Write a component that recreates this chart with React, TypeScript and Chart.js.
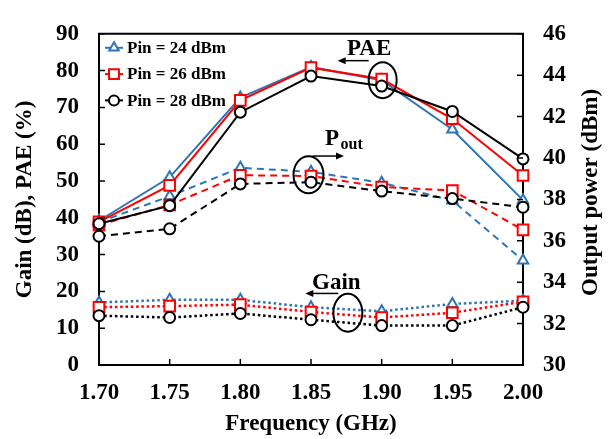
import React, { useEffect, useRef } from 'react';
import { Chart, registerables } from 'chart.js';

Chart.register(...registerables);

// ---- Data ----
const frequencies = ['1.70', '1.75', '1.80', '1.85', '1.90', '1.95', '2.00'];
const seriesLabels = ['Pin = 24 dBm', 'Pin = 26 dBm', 'Pin = 28 dBm'];

// PAE (%) – left axis, solid lines
const pae24 = [39.2, 51.0, 72.7, 81.0, 77.4, 64.0, 44.8];
const pae26 = [38.9, 48.8, 71.9, 80.8, 77.7, 66.9, 51.5];
const pae28 = [38.4, 43.3, 68.7, 78.5, 75.8, 68.9, 56.0];

// Output power (dBm) – right axis, dashed lines
const pout24 = [36.9, 38.15, 39.53, 39.33, 38.8, 37.95, 35.05];
const pout26 = [36.76, 37.73, 39.17, 39.13, 38.6, 38.43, 36.53];
const pout28 = [36.22, 36.58, 38.75, 38.83, 38.4, 38.04, 37.62];

// Gain (dB) – left axis, dotted lines
const gain24 = [17.0, 17.7, 17.7, 15.7, 14.6, 16.6, 17.5];
const gain26 = [15.7, 16.0, 16.4, 14.4, 12.9, 14.2, 17.2];
const gain28 = [13.4, 12.9, 14.0, 12.3, 10.7, 10.7, 15.7];

const leftMin = 0;
const leftMax = 90;
const leftStep = 10;
const rightMin = 30;
const rightMax = 46;
const rightStep = 2;

const xTitle = 'Frequency (GHz)';
const leftTitle = 'Gain (dB), PAE (%)';
const rightTitle = 'Output power (dBm)';

// ---- Styles ----
const BLUE = '#2E75B6';
const RED = '#FF0000';
const BLACK = '#000000';
const FONT = '"Liberation Serif", "Times New Roman", serif';
const colors = [BLUE, RED, BLACK];
const styles = ['triangle', 'rect', 'circle'];
const radii = [6, 7.5, 5.5];
const orders = [2, 1, 0];

function makeSet(label: string, data: number[], i: number, axis: string, dash: number[], width: number) {
  return {
    label,
    data,
    borderColor: colors[i],
    backgroundColor: '#ffffff',
    borderWidth: width,
    borderDash: dash,
    borderCapStyle: 'butt',
    pointStyle: styles[i],
    pointRadius: radii[i],
    pointBorderWidth: 2,
    pointBorderColor: colors[i],
    pointBackgroundColor: '#ffffff',
    yAxisID: axis,
    fill: false,
    tension: 0,
    order: orders[i],
  };
}

function drawMarker(ctx: CanvasRenderingContext2D, style: string, x: number, y: number, r: number, color: string) {
  ctx.save();
  ctx.lineWidth = 2;
  ctx.strokeStyle = color;
  ctx.fillStyle = '#ffffff';
  ctx.beginPath();
  if (style === 'circle') {
    ctx.arc(x, y, r, 0, Math.PI * 2);
  } else if (style === 'rect') {
    const s = r * Math.SQRT1_2;
    ctx.rect(x - s, y - s, 2 * s, 2 * s);
  } else {
    let a = 0;
    ctx.moveTo(x + Math.sin(a) * r, y - Math.cos(a) * r);
    a += (2 * Math.PI) / 3;
    ctx.lineTo(x + Math.sin(a) * r, y - Math.cos(a) * r);
    a += (2 * Math.PI) / 3;
    ctx.lineTo(x + Math.sin(a) * r, y - Math.cos(a) * r);
    ctx.closePath();
  }
  ctx.fill();
  ctx.stroke();
  ctx.restore();
}

function arrow(ctx: CanvasRenderingContext2D, x1: number, y: number, x2: number) {
  ctx.save();
  ctx.strokeStyle = '#000';
  ctx.fillStyle = '#000';
  ctx.lineWidth = 1.5;
  const dir = x2 > x1 ? 1 : -1;
  ctx.beginPath();
  ctx.moveTo(x1, y);
  ctx.lineTo(x2 - dir * 5, y);
  ctx.stroke();
  ctx.beginPath();
  ctx.moveTo(x2, y);
  ctx.lineTo(x2 - dir * 8, y - 3.5);
  ctx.lineTo(x2 - dir * 8, y + 3.5);
  ctx.closePath();
  ctx.fill();
  ctx.restore();
}

function ellipse(ctx: CanvasRenderingContext2D, cx: number, cy: number, rx: number, ry: number) {
  ctx.save();
  ctx.strokeStyle = '#000';
  ctx.lineWidth = 2;
  ctx.beginPath();
  ctx.ellipse(cx, cy, rx, ry, 0, 0, Math.PI * 2);
  ctx.stroke();
  ctx.restore();
}

const framePlugin = {
  id: 'frameTicks',
  afterDraw(chart: any) {
    const ctx: CanvasRenderingContext2D = chart.ctx;
    const { left, right, top, bottom } = chart.chartArea;
    const x = chart.scales.x;
    const y = chart.scales.y;
    const y1 = chart.scales.y1;
    ctx.save();
    ctx.strokeStyle = '#000';
    ctx.lineWidth = 2;
    ctx.beginPath();
    ctx.moveTo(left - 1, top);
    ctx.lineTo(right + 1, top);
    ctx.stroke();
    ctx.lineWidth = 1.5;
    ctx.beginPath();
    y.ticks.forEach((t: any) => {
      const p = y.getPixelForValue(t.value);
      ctx.moveTo(left, p);
      ctx.lineTo(left + 6, p);
    });
    y1.ticks.forEach((t: any) => {
      const p = y1.getPixelForValue(t.value);
      ctx.moveTo(right, p);
      ctx.lineTo(right - 6, p);
    });
    x.ticks.forEach((t: any, i: number) => {
      const p = x.getPixelForTick(i);
      ctx.moveTo(p, bottom);
      ctx.lineTo(p, bottom - 6);
    });
    ctx.stroke();

    // right axis title, reading bottom-to-top
    ctx.fillStyle = '#000';
    ctx.font = `bold 23px ${FONT}`;
    ctx.textAlign = 'center';
    ctx.textBaseline = 'middle';
    ctx.translate(591, (top + bottom) / 2 - 7);
    ctx.rotate(-Math.PI / 2);
    ctx.fillText(rightTitle, 0, 0);
    ctx.restore();
  },
};

const legendPlugin = {
  id: 'customLegend',
  afterDraw(chart: any) {
    const ctx: CanvasRenderingContext2D = chart.ctx;
    const { left, top } = chart.chartArea;
    ctx.save();
    ctx.font = `bold 17px ${FONT}`;
    ctx.textBaseline = 'middle';
    ctx.textAlign = 'left';
    seriesLabels.forEach((lab, i) => {
      const yy = top + 14 + i * 26.3;
      ctx.strokeStyle = colors[i];
      ctx.lineWidth = 2;
      ctx.beginPath();
      ctx.moveTo(left + 6, yy);
      ctx.lineTo(left + 24, yy);
      ctx.stroke();
      drawMarker(ctx, styles[i], left + 15, yy, radii[i] - 0.5, colors[i]);
      ctx.fillStyle = '#000';
      ctx.fillText(lab, left + 28, yy + 1);
    });
    ctx.restore();
  },
};

const annotationPlugin = {
  id: 'annotations',
  afterDraw(chart: any) {
    const ctx: CanvasRenderingContext2D = chart.ctx;
    const x = chart.scales.x;
    const y = chart.scales.y;
    ctx.save();
    ctx.fillStyle = '#000';
    ctx.textBaseline = 'alphabetic';

    // PAE
    const pX = x.getPixelForValue(4);
    const pY = y.getPixelForValue(77.4);
    ellipse(ctx, pX + 1, pY, 14, 18);
    arrow(ctx, pX - 13, pY - 19.5, pX - 44);
    ctx.font = `bold 23px ${FONT}`;
    ctx.textAlign = 'center';
    ctx.fillText('PAE', pX - 12.5, pY - 25);

    // Pout
    const oX = x.getPixelForValue(3);
    const oY = y.getPixelForValue(51.7);
    ellipse(ctx, oX - 2.5, oY, 15, 18.5);
    arrow(ctx, oX + 1.5, oY - 18.7, oX + 33);
    ctx.textAlign = 'left';
    ctx.font = `bold 23px ${FONT}`;
    ctx.fillText('P', oX + 14, oY - 30);
    ctx.font = `bold 16px ${FONT}`;
    ctx.fillText('out', oX + 29.5, oY - 26);

    // Gain
    const gX = x.getPixelForValue(3.5);
    const gY = y.getPixelForValue(14.2);
    ellipse(ctx, gX + 1.5, gY, 14.5, 19);
    arrow(ctx, gX - 8, gY - 19.3, gX - 41);
    ctx.font = `bold 23px ${FONT}`;
    ctx.textAlign = 'center';
    ctx.fillText('Gain', gX - 10, gY - 24);
    ctx.restore();
  },
};

const tickFont = { family: FONT, size: 23, weight: 'bold' as const };

export default function App() {
  const canvasRef = useRef<HTMLCanvasElement | null>(null);

  useEffect(() => {
    const canvas = canvasRef.current;
    if (!canvas) return;
    const chart = new Chart(canvas, {
      type: 'line',
      data: {
        labels: frequencies,
        datasets: [
          makeSet(seriesLabels[0] + ' PAE', pae24, 0, 'y', [], 2),
          makeSet(seriesLabels[1] + ' PAE', pae26, 1, 'y', [], 2),
          makeSet(seriesLabels[2] + ' PAE', pae28, 2, 'y', [], 2),
          makeSet(seriesLabels[0] + ' Pout', pout24, 0, 'y1', [7, 5], 2),
          makeSet(seriesLabels[1] + ' Pout', pout26, 1, 'y1', [7, 5], 2),
          makeSet(seriesLabels[2] + ' Pout', pout28, 2, 'y1', [7, 5], 2),
          makeSet(seriesLabels[0] + ' Gain', gain24, 0, 'y', [2.5, 2.8], 2.5),
          makeSet(seriesLabels[1] + ' Gain', gain26, 1, 'y', [2.5, 2.8], 2.5),
          makeSet(seriesLabels[2] + ' Gain', gain28, 2, 'y', [2.5, 2.8], 2.5),
        ] as any,
      },
      options: {
        responsive: false,
        animation: false,
        devicePixelRatio: 1,
        layout: { padding: { top: 22, left: 0, right: 0, bottom: 0 } },
        plugins: {
          legend: { display: false },
          tooltip: { enabled: false },
        },
        scales: {
          x: {
            type: 'category',
            offset: false,
            grid: { display: false, drawTicks: false, offset: false },
            border: { display: true, color: '#000', width: 2 },
            ticks: { color: '#000', font: tickFont, padding: 14, maxRotation: 0, autoSkip: false },
            title: {
              display: true,
              text: xTitle,
              color: '#000',
              font: tickFont,
              padding: { top: 0, bottom: 1 },
            },
            afterFit: (s: any) => {
              s.height = 74;
            },
          },
          y: {
            position: 'left',
            min: leftMin,
            max: leftMax,
            grid: { display: false, drawTicks: false },
            border: { display: true, color: '#000', width: 2 },
            ticks: { stepSize: leftStep, color: '#000', font: tickFont, padding: 20 },
            title: {
              display: true,
              text: leftTitle,
              color: '#000',
              font: tickFont,
              padding: { top: 11, bottom: 0 },
            },
            afterFit: (s: any) => {
              s.width = 99;
            },
          },
          y1: {
            position: 'right',
            min: rightMin,
            max: rightMax,
            grid: { display: false, drawTicks: false, drawOnChartArea: false },
            border: { display: true, color: '#000', width: 2 },
            ticks: { stepSize: rightStep, color: '#000', font: tickFont, padding: 20 },
            title: { display: false },
            afterFit: (s: any) => {
              s.width = 89;
            },
          },
        },
      } as any,
      plugins: [framePlugin, legendPlugin, annotationPlugin],
    });
    return () => chart.destroy();
  }, []);

  return (
    <div style={{ position: 'fixed', left: 0, top: 0, width: 612, height: 439, background: '#fff' }}>
      <canvas ref={canvasRef} width={612} height={439} style={{ display: 'block' }} />
    </div>
  );
}
